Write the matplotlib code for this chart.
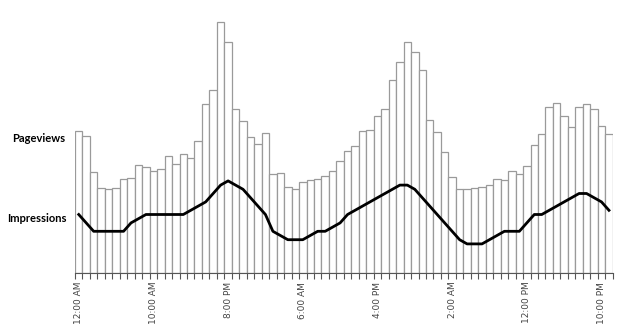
import numpy as np
import matplotlib.pyplot as plt

# hourly pageviews (bars) and impressions (line) over three days
pageviews = [142, 137, 101, 85, 84, 85, 94, 95, 108, 106,
             102, 104, 117, 109, 119, 115, 132, 169, 183, 251,
             231, 164, 152, 136, 129, 140, 99, 100, 86, 84,
             91, 93, 94, 97, 102, 112, 122, 127, 142, 143,
             157, 164, 193, 211, 231, 221, 203, 153, 141, 121,
             96, 84, 84, 85, 86, 88, 94, 93, 102, 99,
             107, 128, 139, 166, 170, 157, 146, 166, 169, 164,
             147, 139]
impressions = [14, 12, 10, 10, 10, 10, 10, 12, 13, 14,
               14, 14, 14, 14, 14, 15, 16, 17, 19, 21,
               22, 21, 20, 18, 16, 14, 10, 9, 8, 8,
               8, 9, 10, 10, 11, 12, 14, 15, 16, 17,
               18, 19, 20, 21, 21, 20, 18, 16, 14, 12,
               10, 8, 7, 7, 7, 8, 9, 10, 10, 10,
               12, 14, 14, 15, 16, 17, 18, 19, 19, 18,
               17, 15]
tick_pos = [0, 10, 20, 30, 40, 50, 60, 70]
tick_labels = ['12:00 AM', '10:00 AM', '8:00 PM', '6:00 AM',
               '4:00 PM', '2:00 AM', '12:00 PM', '10:00 PM']

hours = np.arange(len(pageviews))

fig = plt.figure(figsize=(6.2, 3.25), dpi=100)
ax = fig.add_axes([75 / 620, 51.7 / 325, 537.7 / 620, 258.3 / 325])

ax.bar(hours, pageviews, width=1.0, color='white', edgecolor='#9a9a9a', linewidth=0.9)
ax.set_xlim(-0.5, len(pageviews) - 0.5)
ax.set_ylim(0, 258.3)

# impressions on their own (hidden) scale
ax2 = ax.twinx()
ax2.plot(hours, impressions, color='black', linewidth=2)
ax2.set_ylim(0, 258.3 / 4.2)
ax2.axis('off')

for side in ['top', 'right', 'left']:
    ax.spines[side].set_visible(False)
ax.spines['bottom'].set_color('#555555')
ax.set_yticks([])

ax.set_xticks(tick_pos)
ax.set_xticklabels(tick_labels, rotation=90, fontsize=6.5, color='#444444')
ax.tick_params(axis='x', which='major', length=0, pad=6)
ax.set_xticks(np.arange(-0.5, len(pageviews)), minor=True)
ax.tick_params(axis='x', which='minor', length=4, width=0.8, color='#555555')

fig.text(65 / 620, 1 - 138 / 325, 'Pageviews', ha='right', va='center',
         fontsize=8, fontweight='bold', family='Lato')
fig.text(67 / 620, 1 - 218 / 325, 'Impressions', ha='right', va='center',
         fontsize=8, fontweight='bold', family='Lato')

fig.savefig('out.png', dpi=100)
